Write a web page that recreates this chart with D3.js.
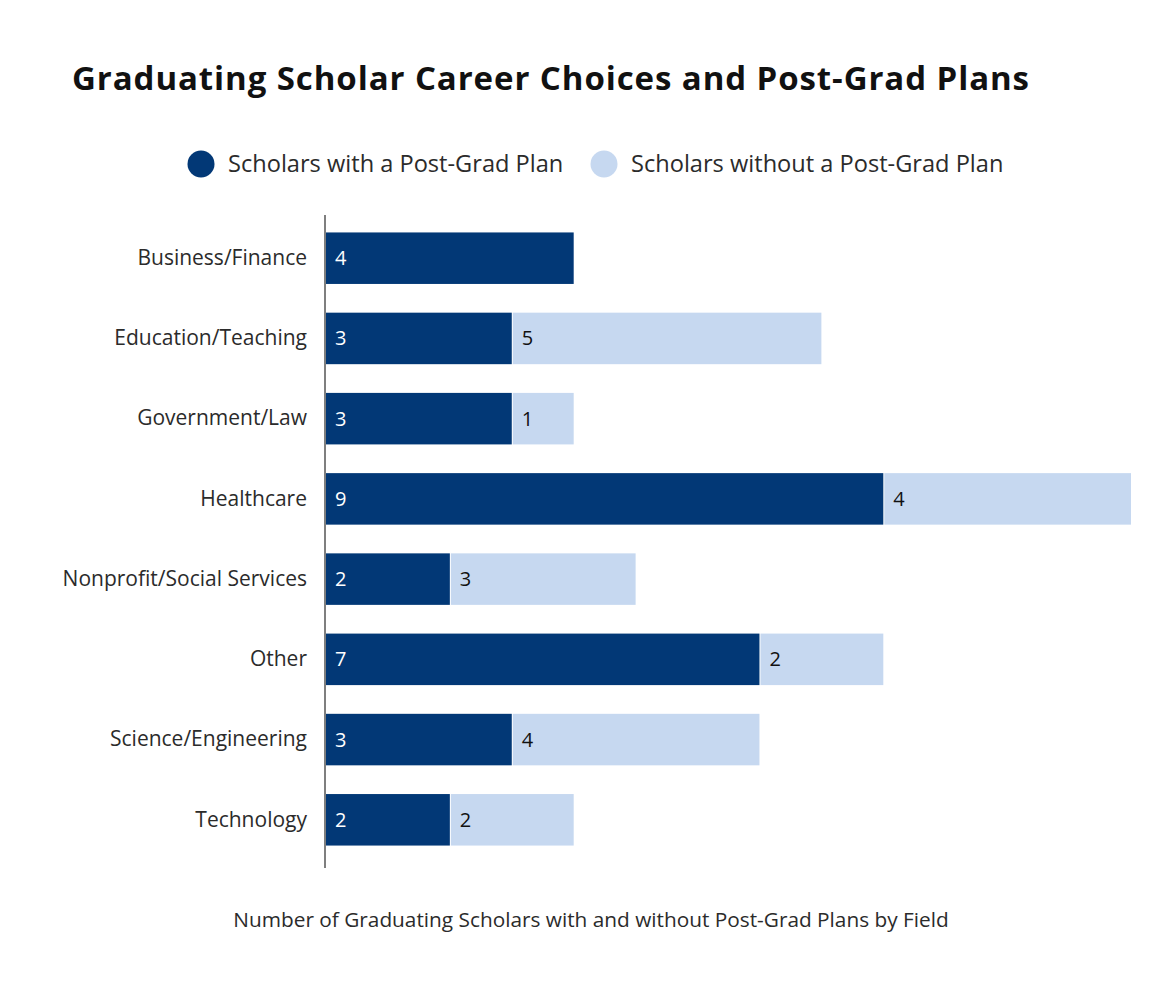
<!DOCTYPE html>
<html lang="en">
<head>
<meta charset="UTF-8">
<title>Graduating Scholar Career Choices</title>
<script src="https://d3js.org/d3.v7.min.js"></script>
<style>
  body { margin: 0; background: #fff; }
  text { font-family: "Open Sans", "Noto Sans", sans-serif; }
</style>
</head>
<body>
<div id="chart"></div>
<script>
const categories = ["Business/Finance", "Education/Teaching", "Government/Law", "Healthcare",
  "Nonprofit/Social Services", "Other", "Science/Engineering", "Technology"];
const withPlan = [4, 3, 3, 9, 2, 7, 3, 2];
const withoutPlan = [0, 5, 1, 4, 3, 2, 4, 2];
const seriesNames = ["Scholars with a Post-Grad Plan", "Scholars without a Post-Grad Plan"];
const colors = ["#023876", "#c6d8f0"];

const W = 1170, H = 1008;
const svg = d3.select('#chart').append('svg')
  .attr('width', W).attr('height', H);

// title
svg.append('text')
  .attr('x', 72).attr('y', 90)
  .attr('font-size', 33).attr('font-weight', 700)
  .attr('fill', '#111')
  .attr('textLength', 957)
  .text('Graduating Scholar Career Choices and Post-Grad Plans');

// legend
const legendX = [201, 604];
seriesNames.forEach((name, i) => {
  svg.append('circle')
    .attr('cx', legendX[i]).attr('cy', 164).attr('r', 13.5)
    .attr('fill', colors[i]);
  svg.append('text')
    .attr('x', legendX[i] + 27).attr('y', 172)
    .attr('font-size', 23.6).attr('fill', '#2b2b2b')
    .text(name);
});

const x = d3.scaleLinear().domain([0, 13]).range([326, 1131]);
const y = d3.scaleBand().domain(categories).range([218, 860]).paddingInner(0.358).paddingOuter(0.18);

const stacked = d3.stack().keys([0, 1])(categories.map((c, i) => [withPlan[i], withoutPlan[i]]));

stacked.forEach((layer, si) => {
  const g = svg.append('g');
  layer.forEach((d, i) => {
    const v = d[1] - d[0];
    if (v <= 0) return;
    const x0 = x(d[0]) + (si === 1 ? 1 : 0);
    g.append('rect')
      .attr('x', x0)
      .attr('y', y(categories[i]))
      .attr('width', x(d[1]) - x0)
      .attr('height', y.bandwidth())
      .attr('fill', colors[si]);
    g.append('text')
      .attr('x', x0 + 9)
      .attr('y', y(categories[i]) + y.bandwidth() / 2)
      .attr('dy', '0.35em')
      .attr('font-size', 20)
      .attr('fill', si === 0 ? '#fff' : '#111')
      .text(v);
  });
});

// category axis
const axis = d3.axisLeft(y).tickSize(0).tickPadding(18);
const ag = svg.append('g').attr('transform', 'translate(325,0)').call(axis);
ag.select('.domain').remove();
ag.selectAll('text')
  .attr('font-size', 21)
  .attr('fill', '#2b2b2b')
  .attr('font-family', '"Open Sans", "Noto Sans", sans-serif');
svg.append('line')
  .attr('x1', 325).attr('x2', 325)
  .attr('y1', 215).attr('y2', 868)
  .attr('stroke', '#555').attr('stroke-width', 1.5);

// caption
svg.append('text')
  .attr('x', 591).attr('y', 927)
  .attr('text-anchor', 'middle')
  .attr('font-size', 20.8).attr('fill', '#2b2b2b')
  .text('Number of Graduating Scholars with and without Post-Grad Plans by Field');
</script>
</body>
</html>
